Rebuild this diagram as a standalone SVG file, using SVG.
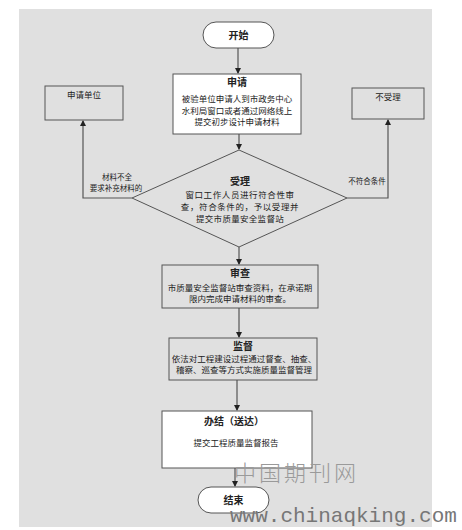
<svg xmlns="http://www.w3.org/2000/svg" width="462" height="530" viewBox="0 0 462 530">
<defs>
<marker id="ah" markerWidth="6" markerHeight="6" refX="5" refY="3" orient="auto" markerUnits="userSpaceOnUse">
<path d="M0,0 L6,3 L0,6 Z" fill="#222"/>
</marker>
<style>
.bg{fill:#e0e0e0}
.box{fill:#fff;stroke:#555;stroke-width:1}
.gbox{fill:#e0e0e0;stroke:#555;stroke-width:1}
.ln{fill:none;stroke:#555;stroke-width:1.2;marker-end:url(#ah)}
text{font-family:"Noto Sans CJK SC","Noto Sans",sans-serif;fill:#222;text-anchor:middle}
.t{font-size:10px;font-weight:bold}
.b{font-size:8.5px}
.s{font-size:7.5px}
.wm1{font-family:"Noto Sans CJK SC",serif;font-size:22px;font-weight:300;fill:#9a9a9a;text-anchor:start;letter-spacing:3px}
.wm2{font-family:"Liberation Mono",monospace;font-size:21px;fill:#777;text-anchor:start}
</style>
</defs>
<rect class="bg" x="19" y="9" width="413" height="518"/>
<g id="connectors">
<line class="ln" x1="238" y1="48" x2="238" y2="73"/>
<line class="ln" x1="239" y1="134" x2="239" y2="149"/>
<polyline class="ln" points="132,198 83,198 83,121"/>
<polyline class="ln" points="347,198 388,198 388,120"/>
<line class="ln" x1="239" y1="247" x2="239" y2="264"/>
<line class="ln" x1="239" y1="308" x2="239" y2="337"/>
<line class="ln" x1="237" y1="380" x2="237" y2="410"/>
<line class="ln" x1="235" y1="468" x2="235" y2="486"/>
<text class="s" x="117" y="180">材料不全</text>
<text class="s" x="116" y="190.5">要求补充材料的</text>
<text class="s" x="367" y="184">不符合条件</text>
</g>
<g id="start">
<rect class="box" x="203" y="22" width="71" height="26" rx="13"/>
<text class="t" x="238.5" y="39">开始</text>
</g>
<g id="apply">
<rect class="box" x="173" y="74" width="128" height="60"/>
<text class="t" x="237" y="86">申请</text>
<text class="b" x="237" y="102">被验单位申请人到市政务中心</text>
<text class="b" x="237" y="113.5">水利局窗口或者通过网络线上</text>
<text class="b" x="237" y="125">提交初步设计申请材料</text>
</g>
<g id="applicant">
<rect class="gbox" x="45" y="86" width="78" height="34"/>
<text class="b" x="84" y="98">申请单位</text>
</g>
<g id="reject">
<rect class="gbox" x="352" y="88" width="72" height="31"/>
<text class="b" x="388" y="100">不受理</text>
</g>
<g id="accept">
<polygon class="gbox" points="239,150 347,198 239,247 132,198"/>
<text class="t" x="240" y="185">受理</text>
<text class="b" x="240" y="198" letter-spacing="0.6">窗口工作人员进行符合性审</text>
<text class="b" x="240" y="210" letter-spacing="0.6">查，符合条件的，予以受理并</text>
<text class="b" x="240" y="222" letter-spacing="0.3">提交市质量安全监督站</text>
</g>
<g id="review">
<rect class="gbox" x="162" y="265" width="156" height="43"/>
<text class="t" x="240" y="277">审查</text>
<text class="b" x="240" y="291">市质量安全监督站审查资料，在承诺期</text>
<text class="b" x="240" y="302">限内完成申请材料的审查。</text>
</g>
<g id="supervise">
<rect class="gbox" x="169" y="338" width="148" height="42"/>
<text class="t" x="243" y="350">监督</text>
<text class="b" x="244" y="362">依法对工程建设过程通过督查、抽查、</text>
<text class="b" x="244" y="373">稽察、巡查等方式实施质量监督管理</text>
</g>
<g id="finish">
<rect class="box" x="162" y="411" width="150" height="57"/>
<text class="t" x="234" y="425">办结（送达）</text>
<text class="b" x="236" y="446">提交工程质量监督报告</text>
</g>
<g id="end">
<rect class="box" x="198" y="487" width="71" height="26" rx="13"/>
<text class="t" x="233.5" y="504">结束</text>
</g>
<text class="wm1" x="234" y="481">中国期刊网</text>
<text class="wm2" x="230" y="522">www.chinaqking.com</text>
</svg>
